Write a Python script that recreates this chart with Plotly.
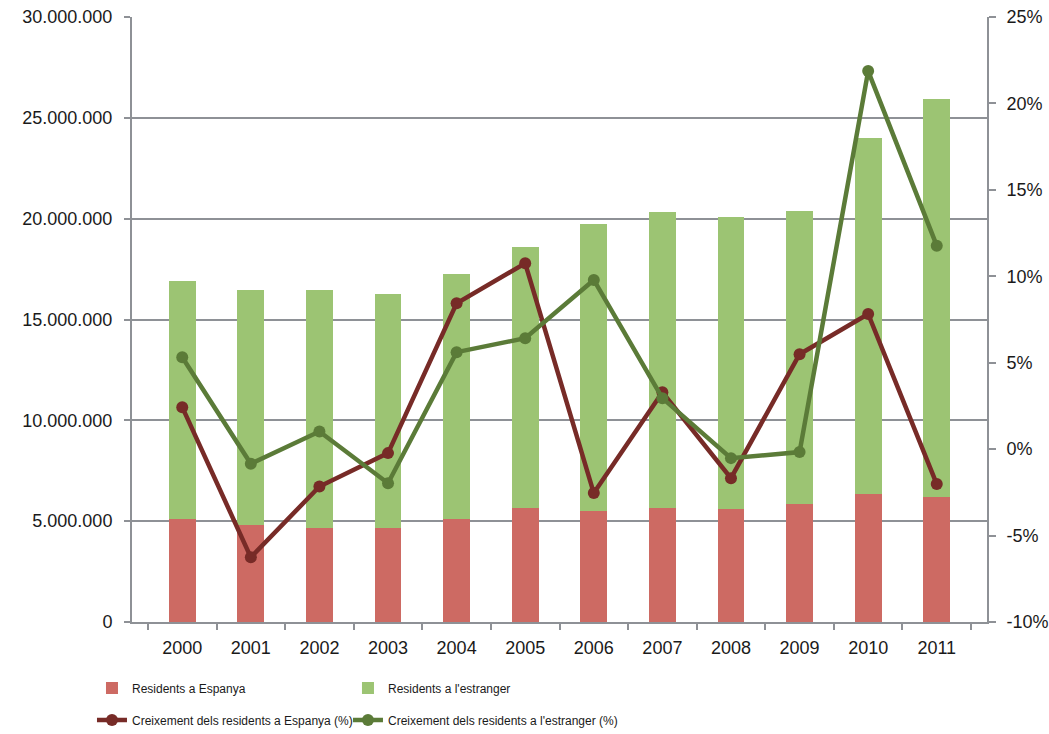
import plotly.graph_objects as go

years = ["2000", "2001", "2002", "2003", "2004", "2005",
         "2006", "2007", "2008", "2009", "2010", "2011"]
# Stacked bar values (persons)
residents_espanya = [5090000, 4830000, 4660000, 4660000, 5090000, 5640000,
                     5510000, 5640000, 5580000, 5870000, 6370000, 6220000]
totals = [16900000, 16470000, 16470000, 16250000, 17260000, 18600000,
          19730000, 20310000, 20070000, 20390000, 23990000, 25910000]
residents_estranger = [t - e for t, e in zip(totals, residents_espanya)]
# Growth rates (%)
creix_espanya = [2.43, -6.26, -2.16, -0.23, 8.44, 10.75,
                 -2.54, 3.29, -1.68, 5.49, 7.82, -2.02]
creix_estranger = [5.32, -0.85, 1.02, -1.97, 5.61, 6.42,
                   9.79, 2.95, -0.52, -0.17, 21.87, 11.77]

left_tickvals = [0, 5000000, 10000000, 15000000, 20000000, 25000000, 30000000]
left_ticktext = ["0", "5.000.000", "10.000.000", "15.000.000",
                 "20.000.000", "25.000.000", "30.000.000"]
right_tickvals = [-10, -5, 0, 5, 10, 15, 20, 25]
right_ticktext = ["-10%", "-5%", "0%", "5%", "10%", "15%", "20%", "25%"]

RED_BAR = "#CD6A63"
GREEN_BAR = "#9CC473"
RED_LINE = "#772B27"
GREEN_LINE = "#5B7B38"
GRID = "#8E9196"
TXT = "#1a1a1a"
FONT = "Liberation Sans, Arial, sans-serif"
LEGFONT = "Liberation Sans Narrow, Arial Narrow, Liberation Sans, Arial, sans-serif"

fig = go.Figure()
fig.add_trace(go.Bar(x=years, y=residents_espanya, name="Residents a Espanya",
                     marker=dict(color=RED_BAR, line=dict(width=0)), legend="legend"))
fig.add_trace(go.Bar(x=years, y=residents_estranger, name="Residents a l'estranger",
                     marker=dict(color=GREEN_BAR, line=dict(width=0)), legend="legend2"))
fig.add_trace(go.Scatter(x=years, y=creix_espanya, yaxis="y2", mode="lines+markers",
                         name="Creixement dels residents a Espanya (%)",
                         line=dict(color=RED_LINE, width=4.5),
                         marker=dict(color=RED_LINE, size=12), legend="legend3"))
fig.add_trace(go.Scatter(x=years, y=creix_estranger, yaxis="y2", mode="lines+markers",
                         name="Creixement dels residents a l'estranger (%)",
                         line=dict(color=GREEN_LINE, width=4.5),
                         marker=dict(color=GREEN_LINE, size=12), legend="legend4"))

legfont = dict(family=LEGFONT, size=12, color=TXT)
col1_x, col2_x = -0.0468, 0.2526
row1_y, row2_y = -0.109, -0.162


def leg(x, y):
    return dict(orientation="v", x=x, xanchor="left", y=y, yanchor="middle",
                bgcolor="rgba(0,0,0,0)", borderwidth=0, font=legfont)


fig.update_layout(
    width=1049, height=734,
    margin=dict(l=132, r=62, t=17, b=112, autoexpand=False),
    paper_bgcolor="white", plot_bgcolor="white",
    barmode="stack", bargap=0.61,
    font=dict(family=FONT, size=18, color=TXT),
    xaxis=dict(type="category", showline=True, linecolor=GRID, linewidth=2,
               ticks="outside", tickson="boundaries", ticklen=6, tickwidth=2,
               tickcolor=GRID, showgrid=False, ticklabelstandoff=8,
               tickfont=dict(size=18, color=TXT)),
    yaxis=dict(range=[0, 30000000], tickvals=left_tickvals, ticktext=left_ticktext,
               showline=True, linecolor=GRID, linewidth=2, ticks="outside",
               ticklen=6, tickwidth=2, tickcolor=GRID, showgrid=True,
               gridcolor=GRID, gridwidth=2, zeroline=False, ticklabelstandoff=8,
               ticklabeloverflow="allow", tickfont=dict(size=18, color=TXT)),
    yaxis2=dict(range=[-10, 25], tickvals=right_tickvals, ticktext=right_ticktext,
                overlaying="y", side="right", showline=True, linecolor=GRID,
                linewidth=2, ticks="outside", ticklen=7, tickwidth=2,
                tickcolor=GRID, showgrid=False, zeroline=False,
                ticklabelstandoff=7, ticklabeloverflow="allow",
                tickfont=dict(size=18, color=TXT)),
    legend=leg(col1_x, row1_y),
    legend2=leg(col2_x, row1_y),
    legend3=leg(col1_x, row2_y),
    legend4=leg(col2_x, row2_y),
    showlegend=True,
)

# Remove the default 8px body margin so the figure fills the window exactly.
fig.write_html(
    "out.html",
    config={"displayModeBar": False},
    post_script="document.body.style.margin='0';document.body.style.overflow='hidden';",
)
